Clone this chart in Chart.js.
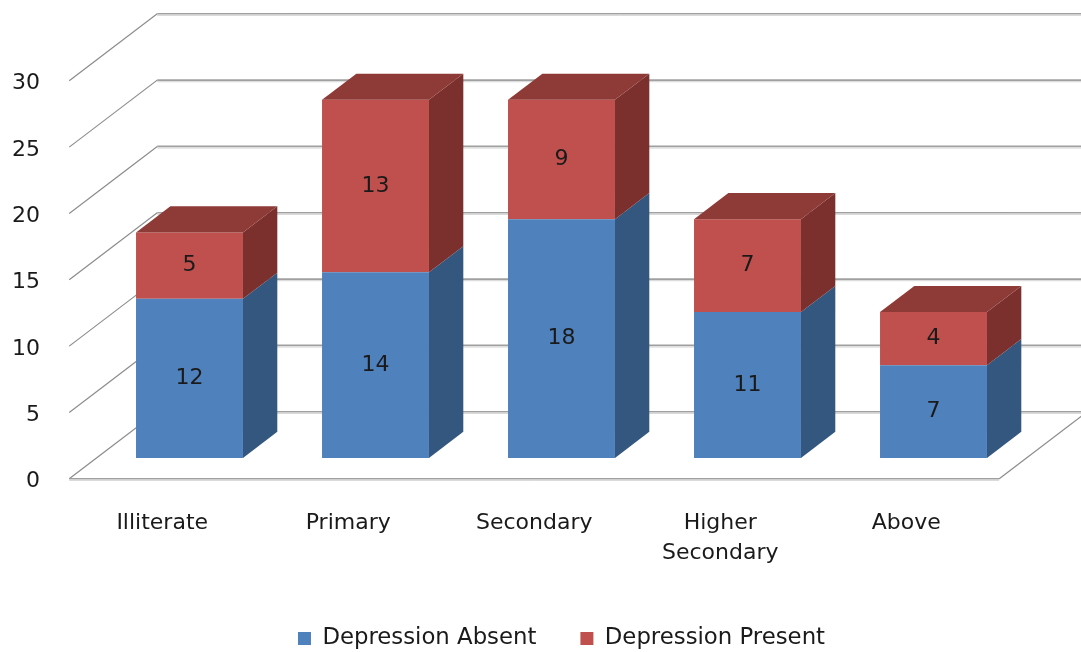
<!DOCTYPE html>
<html>
<head>
<meta charset="utf-8">
<script src="https://cdn.jsdelivr.net/npm/chart.js@4.4.1/dist/chart.umd.min.js"></script>
<style>
  html, body { margin: 0; padding: 0; background: #ffffff; }
  #wrap { width: 1081px; height: 652px; position: relative; }
</style>
</head>
<body>
<div id="wrap"><canvas id="chart"></canvas></div>
<script>
// Education level vs. depression status
const categories = ['Illiterate', 'Primary', 'Secondary', ['Higher', 'Secondary'], 'Above'];
const depressionAbsent = [12, 14, 18, 11, 7];
const depressionPresent = [5, 13, 9, 7, 4];
const yTicks = [0, 5, 10, 15, 20, 25, 30];
const seriesNames = ['Depression Absent', 'Depression Present'];

// face colours per series: front, side, top
const faceColors = [
  { front: '#4f81bd', side: '#34577f', top: '#3f6a9e' },
  { front: '#c0504d', side: '#7b302e', top: '#8e3b38' }
];

const FONT = 'DejaVu Sans';
const TEXT = '#1a1a1a';

// depth of the 3D box (full floor depth) and where the bars sit inside it
const DEPTH = { dx: 88, dy: -67, front: 0.31, back: 0.70 };
const FRONT_DX = -DEPTH.front * DEPTH.dx;   // bar plane -> front plane
const FRONT_DY = -DEPTH.front * DEPTH.dy;
const BAR_DX = (DEPTH.back - DEPTH.front) * DEPTH.dx;
const BAR_DY = (DEPTH.back - DEPTH.front) * DEPTH.dy;

const LEGEND_H = 69;
const XAXIS_H = 125;

function line(ctx, x1, y1, x2, y2) {
  ctx.beginPath();
  ctx.moveTo(x1, y1);
  ctx.lineTo(x2, y2);
  ctx.stroke();
}

function poly(ctx, pts, fill) {
  ctx.beginPath();
  ctx.moveTo(pts[0][0], pts[0][1]);
  for (let i = 1; i < pts.length; i++) ctx.lineTo(pts[i][0], pts[i][1]);
  ctx.closePath();
  ctx.fillStyle = fill;
  ctx.fill();
}

// fixed legend height so the plot area keeps its place
const legendHeight = {
  id: 'legendHeight',
  beforeInit(chart) {
    const lg = chart.legend;
    if (!lg) return;
    const fit = lg.fit;
    lg.fit = function () {
      fit.call(this);
      this.height = LEGEND_H;
    };
  }
};

// walls, floor and the depth faces of the columns
const box3d = {
  id: 'box3d',
  beforeDatasetsDraw(chart) {
    const { ctx, chartArea: a } = chart;
    const y = chart.scales.y;
    const L = a.left + FRONT_DX, R = a.right + FRONT_DX;
    const dx = DEPTH.dx, dy = DEPTH.dy;
    ctx.save();
    ctx.lineCap = 'butt';
    yTicks.forEach(v => {
      const yp = y.getPixelForValue(v) + FRONT_DY;
      ctx.strokeStyle = '#8c8c8c';
      ctx.lineWidth = 1.2;
      line(ctx, L, yp, L + dx, yp + dy);
      ctx.strokeStyle = '#a0a0a0';
      ctx.lineWidth = 1.7;
      line(ctx, L + dx, yp + dy, R + dx, yp + dy);
      ctx.strokeStyle = '#d4d4d4';
      ctx.lineWidth = 1;
      line(ctx, L + dx, yp + dy + 1.6, R + dx, yp + dy + 1.6);
    });
    // floor front edge and right edge
    const y0 = y.getPixelForValue(0) + FRONT_DY;
    ctx.strokeStyle = '#a0a0a0';
    ctx.lineWidth = 1.7;
    line(ctx, L, y0, R, y0);
    ctx.strokeStyle = '#d4d4d4';
    ctx.lineWidth = 1;
    line(ctx, L, y0 + 1.6, R, y0 + 1.6);
    ctx.strokeStyle = '#8c8c8c';
    ctx.lineWidth = 1.2;
    line(ctx, R, y0, R + dx, y0 + dy);
    ctx.restore();
  },
  afterDatasetsDraw(chart) {
    const { ctx } = chart;
    const metas = chart.getSortedVisibleDatasetMetas().slice().sort((p, q) => p.index - q.index);
    ctx.save();
    const topIdx = [];
    metas.forEach(meta => {
      meta.data.forEach((bar, i) => {
        const v = chart.data.datasets[meta.index].data[i];
        if (v) topIdx[i] = meta.index;
      });
    });
    metas.forEach(meta => {
      const col = faceColors[meta.index];
      meta.data.forEach((bar, i) => {
        const p = bar.getProps(['x', 'y', 'base', 'width'], true);
        const l = p.x - p.width / 2, r = p.x + p.width / 2;
        const top = Math.min(p.y, p.base), bot = Math.max(p.y, p.base);
        poly(ctx, [[r, top], [r + BAR_DX, top + BAR_DY], [r + BAR_DX, bot + BAR_DY], [r, bot]], col.side);
        if (topIdx[i] === meta.index) {
          poly(ctx, [[l, top], [l + BAR_DX, top + BAR_DY], [r + BAR_DX, top + BAR_DY], [r, top]], col.top);
        }
      });
    });
    // value labels on the front faces
    ctx.font = '22px "' + FONT + '"';
    ctx.fillStyle = TEXT;
    ctx.textAlign = 'center';
    ctx.textBaseline = 'middle';
    metas.forEach(meta => {
      const vals = chart.data.datasets[meta.index].data;
      meta.data.forEach((bar, i) => {
        const p = bar.getProps(['x', 'y', 'base'], true);
        ctx.fillText(String(vals[i]), p.x, (p.y + p.base) / 2);
      });
    });
    ctx.restore();
  }
};

new Chart(document.getElementById('chart'), {
  type: 'bar',
  data: {
    labels: categories,
    datasets: [
      {
        label: seriesNames[0],
        data: depressionAbsent,
        backgroundColor: faceColors[0].front,
        borderWidth: 0,
        categoryPercentage: 0.575,
        barPercentage: 1
      },
      {
        label: seriesNames[1],
        data: depressionPresent,
        backgroundColor: faceColors[1].front,
        borderWidth: 0,
        categoryPercentage: 0.575,
        barPercentage: 1
      }
    ]
  },
  options: {
    responsive: true,
    maintainAspectRatio: false,
    devicePixelRatio: 1,
    animation: false,
    events: [],
    layout: { padding: { left: 0, right: 54.5, top: 60, bottom: 0 } },
    scales: {
      x: {
        stacked: true,
        grid: { display: false, drawTicks: false },
        border: { display: false },
        afterFit(s) { s.height = XAXIS_H; },
        ticks: {
          autoSkip: false,
          maxRotation: 0,
          minRotation: 0,
          padding: 50.5,
          labelOffset: FRONT_DX,
          color: TEXT,
          font: { family: FONT, size: 22, lineHeight: 1.364 }
        }
      },
      y: {
        stacked: true,
        min: 0,
        max: 30,
        grid: { display: false, drawTicks: true, tickLength: 56.5 },
        border: { display: false },
        afterFit(s) { s.width = 96.5; },
        afterBuildTicks(s) { s.ticks = yTicks.map(v => ({ value: v })); },
        ticks: {
          padding: 0,
          labelOffset: FRONT_DY + 3,
          color: TEXT,
          font: { family: FONT, size: 22 }
        }
      }
    },
    plugins: {
      tooltip: { enabled: false },
      legend: {
        position: 'bottom',
        fullSize: false,
        labels: {
          boxWidth: 13,
          boxHeight: 13,
          padding: 44,
          color: TEXT,
          font: { family: FONT, size: 22.8 }
        }
      }
    }
  },
  plugins: [legendHeight, box3d]
});
</script>
</body>
</html>
